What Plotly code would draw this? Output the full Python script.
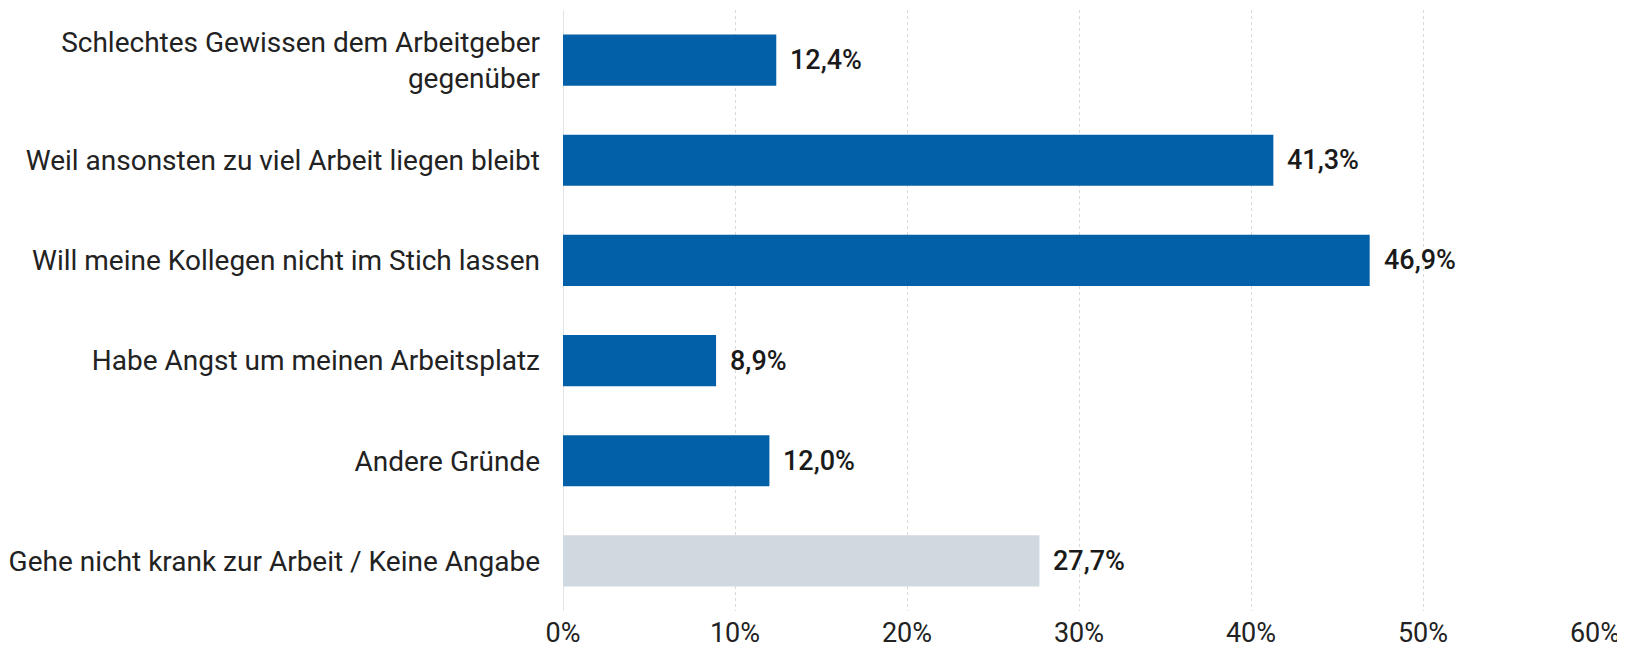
import plotly.graph_objects as go

categories = [
    "Schlechtes Gewissen dem Arbeitgeber<br>gegenüber",
    "Weil ansonsten zu viel Arbeit liegen bleibt",
    "Will meine Kollegen nicht im Stich lassen",
    "Habe Angst um meinen Arbeitsplatz",
    "Andere Gründe",
    "Gehe nicht krank zur Arbeit / Keine Angabe",
]
values = [12.4, 41.3, 46.9, 8.9, 12.0, 27.7]
bar_colors = ["#0260A8", "#0260A8", "#0260A8", "#0260A8", "#0260A8", "#D0D9E0"]
tick_vals = [0, 10, 20, 30, 40, 50, 60]
tick_text = ["0%", "10%", "20%", "30%", "40%", "50%", "60%"]

def fmt(v):
    return f"{v:.1f}".replace(".", ",") + "%"

fig = go.Figure(go.Bar(
    x=values, y=categories, orientation="h",
    marker=dict(color=bar_colors, line=dict(width=0)),
    width=0.51, hoverinfo="skip",
))

for v, c in zip(values, categories):
    fig.add_annotation(x=v, y=c, text=fmt(v), showarrow=False,
                       xanchor="left", yanchor="middle", xshift=12,
                       font=dict(family="Roboto", size=27, color="#1a1a1a", weight=500))

# page body has an 8px default margin; compensate so the plot area sits at x 563-1595, y 10-611
fig.update_layout(
    width=1617, height=640,
    margin=dict(l=555, r=30, t=2, b=37, autoexpand=False),
    paper_bgcolor="white", plot_bgcolor="white",
    showlegend=False,
    font=dict(family="Roboto", color="#222222"),
    xaxis=dict(range=[0, 60], tickvals=tick_vals, ticktext=tick_text,
               showgrid=True, gridcolor="#D9D9D9", griddash="dot", gridwidth=1,
               zeroline=True, zerolinecolor="#E3E3E3", zerolinewidth=1,
               tickfont=dict(size=27, color="#222222"), showline=False,
               ticklabelstandoff=3,
               ticklabeloverflow="allow", automargin=False, fixedrange=True),
    yaxis=dict(autorange="reversed", showgrid=False, zeroline=False,
               tickfont=dict(size=28, color="#222222"), ticklabelstandoff=22,
               showline=False, automargin=False, fixedrange=True),
)

fig.write_html("out.html")
